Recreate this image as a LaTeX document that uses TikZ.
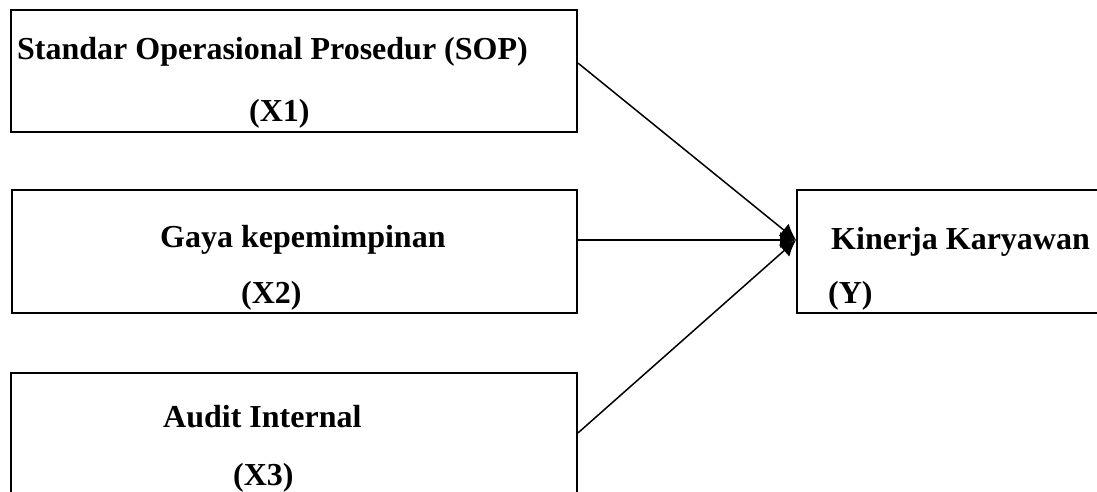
\documentclass[tikz,border=0pt]{standalone}
\usepackage{fontspec}
\setmainfont{Liberation Serif}
\usetikzlibrary{arrows.meta}
\begin{document}
\begin{tikzpicture}[x=1pt,y=-1pt,
  box/.style={draw,line width=1.8pt,rectangle,inner sep=0pt},
  lbl/.style={anchor=base west,inner sep=0pt,font=\bfseries\fontsize{32}{38}\selectfont},
  conn/.style={line width=1.5pt,-{Latex[length=16pt,width=16pt]}}]
\clip (0,0) rectangle (1097,492);
\fill[white] (0,0) rectangle (1097,492);
% boxes
\node[box,minimum width=566pt,minimum height=122pt] (b1) at (294,71) {};
\node[box,minimum width=565pt,minimum height=123pt] (b2) at (294.5,251.5) {};
\node[box,minimum width=566pt,minimum height=147pt] (b3) at (294,446.5) {};
\node[box,minimum width=323pt,minimum height=123pt] (bY) at (958.5,251.5) {};
% texts
\node[lbl] (t1a) at (17,60) {Standar Operasional Prosedur (SOP)};
\node[lbl] (t1b) at (249,122) {(X1)};
\node[lbl] (t2a) at (160,247) {Gaya kepemimpinan};
\node[lbl] (t2b) at (241,303) {(X2)};
\node[lbl] (t3a) at (163,427) {Audit Internal};
\node[lbl] (t3b) at (233,485) {(X3)};
\node[lbl] (tYa) at (831,249) {Kinerja Karyawan};
\node[lbl] (tYb) at (828,303) {(Y)};
% connectors
\coordinate (tip) at ([yshift=11.5pt]bY.west);
\draw[conn] ([yshift=8pt]b1.east) -- (tip);
\draw[conn] ([yshift=11.5pt]b2.east) -- (tip);
\draw[conn] ([yshift=13.5pt]b3.east) -- (tip);
\end{tikzpicture}
\end{document}
